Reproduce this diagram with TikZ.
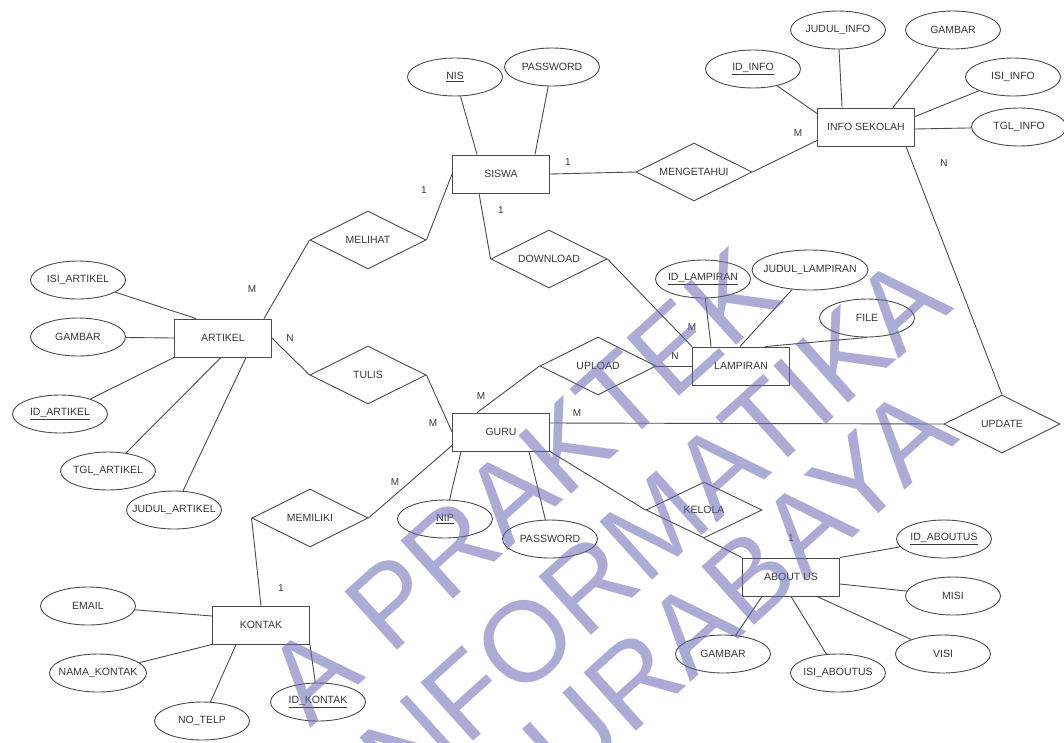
\documentclass[tikz,border=0pt]{standalone}
\usepackage{fontspec}
\setmainfont{Liberation Sans}
\usetikzlibrary{shapes.geometric}

\definecolor{ink}{RGB}{55,55,55}
\definecolor{edgecol}{RGB}{75,75,75}
\definecolor{stamp}{RGB}{102,102,180}

% text of a fixed-size shape: zero width so the shape keeps its minimum size
\newcommand\ztext[1]{\makebox[0pt]{#1}}

\tikzset{
  lbl/.style={text=ink, font=\fontsize{10.5}{12}\selectfont},
  entity/.style={lbl, draw=edgecol, line width=0.9pt, rectangle,
                 minimum width=97pt, minimum height=38pt, inner sep=0pt},
  attr/.style={lbl, draw=edgecol, line width=0.9pt, ellipse,
               minimum width=95pt, minimum height=38pt, inner sep=0pt},
  relation/.style={lbl, draw=edgecol, line width=0.9pt, diamond,
                   minimum width=116pt, minimum height=58pt, inner sep=0pt},
  card/.style={text=ink, font=\fontsize{10}{12}\selectfont, inner sep=0pt},
  link/.style={draw=edgecol, line width=0.9pt},
  stampline/.style={text=stamp, text opacity=0.55, rotate=42, anchor=base west,
                    inner sep=0pt, font=\fontsize{114}{114}\selectfont},
}

\begin{document}
\begin{tikzpicture}[x=1pt, y=-1pt]
\useasboundingbox (0,0) rectangle (1064,742);
\fill[white] (0,0) rectangle (1064,742);

% ---------- entities ----------
\node[entity] (siswa)    at (501,174) {SISWA};
\node[entity] (info)     at (866,127) {INFO SEKOLAH};
\node[entity] (artikel)  at (223,338) {ARTIKEL};
\node[entity] (lampiran) at (741,366) {LAMPIRAN};
\node[entity] (guru)     at (501,432) {GURU};
\node[entity] (kontak)   at (261,625) {KONTAK};
\node[entity] (about)    at (791,577) {ABOUT US};

% ---------- relationships ----------
\node[relation] (mengetahui) at (694,172) {\ztext{MENGETAHUI}};
\node[relation] (melihat)    at (368,240) {\ztext{MELIHAT}};
\node[relation] (download)   at (549,259) {\ztext{DOWNLOAD}};
\node[relation] (tulis)      at (368,375) {\ztext{TULIS}};
\node[relation] (upload)     at (598,366) {\ztext{UPLOAD}};
\node[relation] (update)     at (1002,424) {\ztext{UPDATE}};
\node[relation] (memiliki)   at (310,518) {\ztext{MEMILIKI}};
\node[relation, minimum height=56pt] (kelola) at (704,510) {\ztext{KELOLA}};

% ---------- attributes ----------
\node[attr] (nis)        at (455,77)  {\ztext{\underline{NIS}}};
\node[attr] (pwsiswa)    at (552,67)  {\ztext{PASSWORD}};
\node[attr] (idinfo)     at (753,69)  {\ztext{\underline{ID\_INFO}}};
\node[attr] (judulinfo)  at (838,30)  {\ztext{JUDUL\_INFO}};
\node[attr] (gambarinfo) at (953,30)  {\ztext{GAMBAR}};
\node[attr] (isiinfo)    at (1013,77) {\ztext{ISI\_INFO}};
\node[attr] (tglinfo)    at (1019,127) {\ztext{TGL\_INFO}};

\node[attr] (isiart)     at (78,280)  {\ztext{ISI\_ARTIKEL}};
\node[attr] (gambarart)  at (78,337)  {\ztext{GAMBAR}};
\node[attr] (idart)      at (60,414)  {\ztext{\underline{ID\_ARTIKEL}}};
\node[attr] (tglart)     at (108,471) {\ztext{TGL\_ARTIKEL}};
\node[attr] (judulart)   at (174,510) {\ztext{JUDUL\_ARTIKEL}};

\node[attr] (idlamp)     at (703,279) {\ztext{\underline{ID\_LAMPIRAN}}};
\node[attr, minimum width=116pt, minimum height=40pt] (judullamp) at (810,270) {\ztext{JUDUL\_LAMPIRAN}};
\node[attr] (file)       at (867,318) {\ztext{FILE}};

\node[attr] (nip)        at (445,519) {\ztext{\underline{NIP}}};
\node[attr] (pwguru)     at (550,539) {\ztext{PASSWORD}};

\node[attr] (idabout)    at (944,539) {\ztext{\underline{ID\_ABOUTUS}}};
\node[attr] (misi)       at (953,596) {\ztext{MISI}};
\node[attr] (visi)       at (943,654) {\ztext{VISI}};
\node[attr] (isiabout)   at (838,673) {\ztext{ISI\_ABOUTUS}};
\node[attr] (gambarabout) at (723,654) {\ztext{GAMBAR}};

\node[attr] (email)      at (88,606)  {\ztext{EMAIL}};
\node[attr, minimum width=97pt] (nama) at (98,673) {\ztext{NAMA\_KONTAK}};
\node[attr] (notelp)     at (202,721) {\ztext{NO\_TELP}};
\node[attr] (idkontak)   at (318,702) {\ztext{\underline{ID\_KONTAK}}};

% ---------- attribute links ----------
\draw[link] (nis) -- ([xshift=25pt]siswa.north west);
\draw[link] (pwsiswa) -- ([xshift=-15pt]siswa.north east);

\draw[link] (idinfo) -- ([yshift=-6pt]info.north west);
\draw[link] (judulinfo) -- ([xshift=25pt]info.north west);
\draw[link] (gambarinfo) -- ([xshift=-22pt]info.north east);
\draw[link] (isiinfo) -- ([yshift=-9pt]info.north east);
\draw[link] (tglinfo) -- ([yshift=-2pt]info.east);

\draw[link] (isiart) -- ([xshift=22pt]artikel.north west);
\draw[link] (gambarart) -- (artikel.west);
\draw[link] (idart) -- (artikel.south west);
\draw[link] (tglart) -- ([xshift=47pt]artikel.south west);
\draw[link] (judulart) -- ([xshift=72pt]artikel.south west);

\draw[link] (idlamp) -- ([xshift=19pt]lampiran.north west);
\draw[link] (judullamp) -- ([xshift=-50pt]lampiran.north east);
\draw[link] (file.south) -- ([xshift=-25pt]lampiran.north east);

\draw[link] (nip) -- ([xshift=9pt]guru.south west);
\draw[link] (pwguru) -- ([xshift=-21pt]guru.south east);

\draw[link] (idabout) -- (about.north east);
\draw[link] (misi) -- ([yshift=-7pt]about.east);
\draw[link] (visi) -- ([xshift=-23pt]about.south east);
\draw[link] (isiabout) -- (about.south);
\draw[link] (gambarabout) -- ([xshift=20pt]about.south west);

\draw[link] (email) -- ([yshift=9pt]kontak.west);
\draw[link] (nama) -- (kontak.south west);
\draw[link] (notelp) -- ([xshift=24pt]kontak.south west);
\draw[link] (idkontak) -- (kontak.south east);

% ---------- relationship links ----------
\draw[link] (siswa.east) -- (mengetahui.west);
\draw[link] (mengetahui.east) -- ([yshift=6pt]info.south west);
\draw[link] ([xshift=-9pt]info.south east) -- (update.north);
\draw[link] (melihat.east) -- (siswa.west);
\draw[link] ([xshift=27pt]siswa.south west) -- (download.west);
\draw[link] (download.east) -- (lampiran.north west);
\draw[link] (melihat.west) -- ([xshift=-8pt]artikel.north east);
\draw[link] (artikel.east) -- (tulis.west);
\draw[link] (tulis.east) -- (guru.west);
\draw[link] ([xshift=25pt]guru.north west) -- (upload.west);
\draw[link] (upload.east) -- (lampiran.west);
\draw[link] ([yshift=9pt]guru.east) -- (update.west);
\draw[link] ([yshift=6pt]guru.south west) -- (memiliki.east);
\draw[link] (memiliki.west) -- (kontak.north);
\draw[link] (guru.south east) -- (kelola.west);
\draw[link] (kelola.south) -- (about.north west);

% ---------- cardinalities ----------
\node[card] (k1)  at (568,162) {1};
\node[card] (k2)  at (798,133) {M};
\node[card] (k3)  at (944,163) {N};
\node[card] (k4)  at (424,190) {1};
\node[card] (k5)  at (501,210) {1};
\node[card] (k6)  at (252,289) {M};
\node[card] (k7)  at (290,338) {N};
\node[card] (k8)  at (433,423) {M};
\node[card] (k9)  at (481,396) {M};
\node[card] (k10) at (675,356) {N};
\node[card] (k11) at (692,327) {M};
\node[card] (k12) at (577,413) {M};
\node[card] (k13) at (395,482) {M};
\node[card] (k14) at (281,588) {1};
\node[card] (k15) at (791,538) {1};

% ---------- diagonal stamp over the page ----------
\begin{scope}
  \clip (0,0) rectangle (1064,742);
  \node[stampline] (stamp1) at (310,729) {A PRAKTEK};
  \node[stampline] (stamp2) at (382,824) {INFORMATIKA};
  \node[stampline] (stamp3) at (512,844) {SURABAYA};
\end{scope}
\end{tikzpicture}
\end{document}
